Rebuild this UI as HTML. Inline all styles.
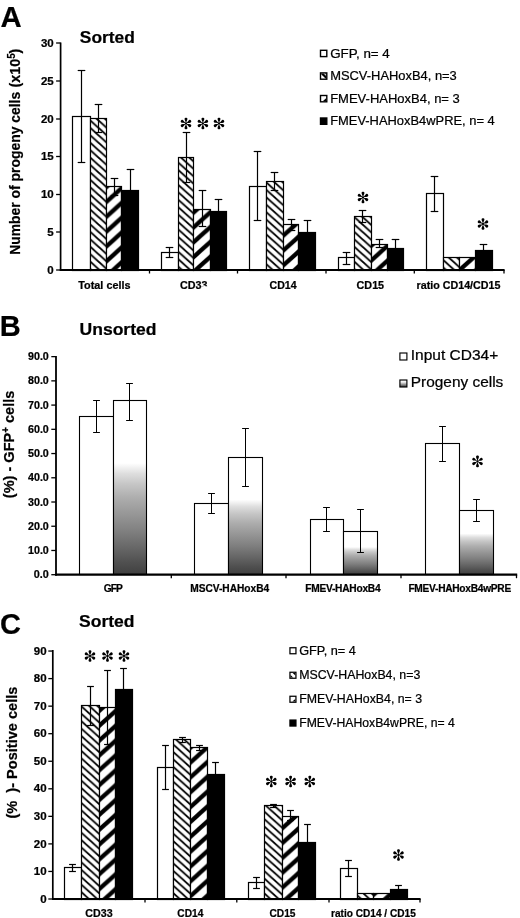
<!DOCTYPE html>
<html><head><meta charset="utf-8"><title>Figure</title><style>html,body{margin:0;padding:0;background:#fff}svg{display:block;will-change:transform}text{font-family:'Liberation Sans', sans-serif;fill:#000;stroke:#000;stroke-width:0.22px;stroke-linejoin:round}</style></head><body>
<svg width="520" height="918" viewBox="0 0 520 918">
<rect width="520" height="918" fill="#fff"/>
<defs><linearGradient id="grad" x1="0" y1="0" x2="0" y2="1"><stop offset="0" stop-color="#fff"/><stop offset="0.36" stop-color="#fff"/><stop offset="0.42" stop-color="#dedede"/><stop offset="0.48" stop-color="#c6c6c6"/><stop offset="0.56" stop-color="#adadad"/><stop offset="0.66" stop-color="#959595"/><stop offset="0.75" stop-color="#808080"/><stop offset="0.85" stop-color="#666"/><stop offset="0.93" stop-color="#505050"/><stop offset="1" stop-color="#404040"/></linearGradient><linearGradient id="grad2" x1="0" y1="0" x2="0" y2="1"><stop offset="0" stop-color="#fff"/><stop offset="0.3" stop-color="#eee"/><stop offset="1" stop-color="#333"/></linearGradient></defs>
<defs><pattern id="thinA" patternUnits="userSpaceOnUse" width="8.25" height="7.43" patternTransform="translate(0,2.0)"><rect width="8.25" height="7.43" fill="#fff"/><polygon points="0,-8.68 8.25,-1.25 8.25,1.25 0,-6.18" fill="#000"/><polygon points="0,-1.25 8.25,6.18 8.25,8.68 0,1.25" fill="#000"/><polygon points="0,6.18 8.25,13.61 8.25,16.11 0,8.68" fill="#000"/></pattern><pattern id="thickA" patternUnits="userSpaceOnUse" width="16.5" height="14.85" patternTransform="translate(0,0.6)"><rect width="16.5" height="14.85" fill="#fff"/><polygon points="0,-2.85 16.5,-17.70 16.5,-12.00 0,2.85" fill="#000"/><polygon points="0,12.00 16.5,-2.85 16.5,2.85 0,17.70" fill="#000"/><polygon points="0,26.85 16.5,12.00 16.5,17.70 0,32.55" fill="#000"/></pattern></defs>
<defs><pattern id="thinC" patternUnits="userSpaceOnUse" width="8.25" height="7.43" patternTransform="translate(0,1.5)"><rect width="8.25" height="7.43" fill="#fff"/><polygon points="0,-8.68 8.25,-1.25 8.25,1.25 0,-6.18" fill="#000"/><polygon points="0,-1.25 8.25,6.18 8.25,8.68 0,1.25" fill="#000"/><polygon points="0,6.18 8.25,13.61 8.25,16.11 0,8.68" fill="#000"/></pattern><pattern id="thickC" patternUnits="userSpaceOnUse" width="16.5" height="14.85" patternTransform="translate(0,-1.7)"><rect width="16.5" height="14.85" fill="#fff"/><polygon points="0,-2.85 16.5,-17.70 16.5,-12.00 0,2.85" fill="#000"/><polygon points="0,12.00 16.5,-2.85 16.5,2.85 0,17.70" fill="#000"/><polygon points="0,26.85 16.5,12.00 16.5,17.70 0,32.55" fill="#000"/></pattern></defs>
<text x="0.6" y="26.9" font-size="29.3" font-weight="bold" >A</text>
<text x="79.8" y="42.8" font-size="16.5" font-weight="bold" textLength="55" lengthAdjust="spacingAndGlyphs" >Sorted</text>
<text transform="translate(19.8,254.8) rotate(-90)" font-size="14.6" font-weight="bold" textLength="163" lengthAdjust="spacingAndGlyphs">Number of progeny cells</text>
<text transform="translate(19.8,87.4) rotate(-90)" font-size="14.6" font-weight="bold" textLength="38.8" lengthAdjust="spacingAndGlyphs">(x10<tspan font-size="10" dy="-5">5</tspan><tspan dy="5">)</tspan></text>
<line x1="56.1" y1="43" x2="60.6" y2="43" stroke="#000" stroke-width="1.3"/>
<text x="53.7" y="46.6" font-size="10.2" font-weight="bold" text-anchor="end" textLength="12.8" lengthAdjust="spacingAndGlyphs" >30</text>
<line x1="56.1" y1="81" x2="60.6" y2="81" stroke="#000" stroke-width="1.3"/>
<text x="53.7" y="84.6" font-size="10.2" font-weight="bold" text-anchor="end" textLength="12.8" lengthAdjust="spacingAndGlyphs" >25</text>
<line x1="56.1" y1="119" x2="60.6" y2="119" stroke="#000" stroke-width="1.3"/>
<text x="53.7" y="122.6" font-size="10.2" font-weight="bold" text-anchor="end" textLength="12.8" lengthAdjust="spacingAndGlyphs" >20</text>
<line x1="56.1" y1="156.5" x2="60.6" y2="156.5" stroke="#000" stroke-width="1.3"/>
<text x="53.7" y="160.1" font-size="10.2" font-weight="bold" text-anchor="end" textLength="12.8" lengthAdjust="spacingAndGlyphs" >15</text>
<line x1="56.1" y1="194.5" x2="60.6" y2="194.5" stroke="#000" stroke-width="1.3"/>
<text x="53.7" y="198.1" font-size="10.2" font-weight="bold" text-anchor="end" textLength="12.8" lengthAdjust="spacingAndGlyphs" >10</text>
<line x1="56.1" y1="232" x2="60.6" y2="232" stroke="#000" stroke-width="1.3"/>
<text x="53.7" y="235.6" font-size="10.2" font-weight="bold" text-anchor="end" textLength="6.4" lengthAdjust="spacingAndGlyphs" >5</text>
<line x1="56.1" y1="270" x2="60.6" y2="270" stroke="#000" stroke-width="1.3"/>
<text x="53.7" y="273.6" font-size="10.2" font-weight="bold" text-anchor="end" textLength="6.4" lengthAdjust="spacingAndGlyphs" >0</text>
<rect x="72.50" y="116.50" width="18.00" height="154.00" fill="#fff" stroke="#000" stroke-width="1.2"/>
<rect x="90.50" y="118.50" width="16.00" height="152.00" fill="url(#thinA)" stroke="#000" stroke-width="1.2"/>
<rect x="106.50" y="186.50" width="15.00" height="84.00" fill="url(#thickA)" stroke="#000" stroke-width="1.2"/>
<rect x="121.50" y="190.50" width="17.00" height="80.00" fill="#000" stroke="#000" stroke-width="1.2"/>
<line x1="81.5" y1="70.5" x2="81.5" y2="162.5" stroke="#000" stroke-width="1.2"/>
<line x1="77.7" y1="70.5" x2="85.3" y2="70.5" stroke="#000" stroke-width="1.2"/>
<line x1="77.7" y1="162.5" x2="85.3" y2="162.5" stroke="#000" stroke-width="1.2"/>
<line x1="98.5" y1="104.5" x2="98.5" y2="132.5" stroke="#000" stroke-width="1.2"/>
<line x1="94.7" y1="104.5" x2="102.3" y2="104.5" stroke="#000" stroke-width="1.2"/>
<line x1="94.7" y1="132.5" x2="102.3" y2="132.5" stroke="#000" stroke-width="1.2"/>
<line x1="114.5" y1="178.5" x2="114.5" y2="195.5" stroke="#000" stroke-width="1.2"/>
<line x1="110.7" y1="178.5" x2="118.3" y2="178.5" stroke="#000" stroke-width="1.2"/>
<line x1="110.7" y1="195.5" x2="118.3" y2="195.5" stroke="#000" stroke-width="1.2"/>
<line x1="130.5" y1="169.5" x2="130.5" y2="190.6" stroke="#000" stroke-width="1.2"/>
<line x1="126.7" y1="169.5" x2="134.3" y2="169.5" stroke="#000" stroke-width="1.2"/>
<rect x="161.50" y="252.50" width="17.00" height="18.00" fill="#fff" stroke="#000" stroke-width="1.2"/>
<rect x="178.50" y="157.50" width="15.00" height="113.00" fill="url(#thinA)" stroke="#000" stroke-width="1.2"/>
<rect x="193.50" y="209.50" width="17.00" height="61.00" fill="url(#thickA)" stroke="#000" stroke-width="1.2"/>
<rect x="210.50" y="211.50" width="16.00" height="59.00" fill="#000" stroke="#000" stroke-width="1.2"/>
<line x1="169.5" y1="247.5" x2="169.5" y2="257.5" stroke="#000" stroke-width="1.2"/>
<line x1="165.7" y1="247.5" x2="173.3" y2="247.5" stroke="#000" stroke-width="1.2"/>
<line x1="165.7" y1="257.5" x2="173.3" y2="257.5" stroke="#000" stroke-width="1.2"/>
<line x1="186.5" y1="132.5" x2="186.5" y2="182.5" stroke="#000" stroke-width="1.2"/>
<line x1="182.7" y1="132.5" x2="190.3" y2="132.5" stroke="#000" stroke-width="1.2"/>
<line x1="182.7" y1="182.5" x2="190.3" y2="182.5" stroke="#000" stroke-width="1.2"/>
<line x1="202.5" y1="190.5" x2="202.5" y2="226.5" stroke="#000" stroke-width="1.2"/>
<line x1="198.7" y1="190.5" x2="206.3" y2="190.5" stroke="#000" stroke-width="1.2"/>
<line x1="198.7" y1="226.5" x2="206.3" y2="226.5" stroke="#000" stroke-width="1.2"/>
<line x1="218.5" y1="199.5" x2="218.5" y2="211" stroke="#000" stroke-width="1.2"/>
<line x1="214.7" y1="199.5" x2="222.3" y2="199.5" stroke="#000" stroke-width="1.2"/>
<rect x="249.50" y="186.50" width="17.00" height="84.00" fill="#fff" stroke="#000" stroke-width="1.2"/>
<rect x="266.50" y="181.50" width="17.00" height="89.00" fill="url(#thinA)" stroke="#000" stroke-width="1.2"/>
<rect x="283.50" y="224.50" width="15.00" height="46.00" fill="url(#thickA)" stroke="#000" stroke-width="1.2"/>
<rect x="298.50" y="232.50" width="17.00" height="38.00" fill="#000" stroke="#000" stroke-width="1.2"/>
<line x1="257.5" y1="151.5" x2="257.5" y2="220.5" stroke="#000" stroke-width="1.2"/>
<line x1="253.7" y1="151.5" x2="261.3" y2="151.5" stroke="#000" stroke-width="1.2"/>
<line x1="253.7" y1="220.5" x2="261.3" y2="220.5" stroke="#000" stroke-width="1.2"/>
<line x1="274.5" y1="172.5" x2="274.5" y2="190.5" stroke="#000" stroke-width="1.2"/>
<line x1="270.7" y1="172.5" x2="278.3" y2="172.5" stroke="#000" stroke-width="1.2"/>
<line x1="270.7" y1="190.5" x2="278.3" y2="190.5" stroke="#000" stroke-width="1.2"/>
<line x1="291.5" y1="219.5" x2="291.5" y2="230.5" stroke="#000" stroke-width="1.2"/>
<line x1="287.7" y1="219.5" x2="295.3" y2="219.5" stroke="#000" stroke-width="1.2"/>
<line x1="287.7" y1="230.5" x2="295.3" y2="230.5" stroke="#000" stroke-width="1.2"/>
<line x1="307.5" y1="220.5" x2="307.5" y2="232.5" stroke="#000" stroke-width="1.2"/>
<line x1="303.7" y1="220.5" x2="311.3" y2="220.5" stroke="#000" stroke-width="1.2"/>
<rect x="338.50" y="257.50" width="16.00" height="13.00" fill="#fff" stroke="#000" stroke-width="1.2"/>
<rect x="354.50" y="216.50" width="17.00" height="54.00" fill="url(#thinA)" stroke="#000" stroke-width="1.2"/>
<rect x="371.50" y="244.50" width="16.00" height="26.00" fill="url(#thickA)" stroke="#000" stroke-width="1.2"/>
<rect x="387.50" y="248.50" width="16.00" height="22.00" fill="#000" stroke="#000" stroke-width="1.2"/>
<line x1="346.5" y1="252.5" x2="346.5" y2="264.5" stroke="#000" stroke-width="1.2"/>
<line x1="342.7" y1="252.5" x2="350.3" y2="252.5" stroke="#000" stroke-width="1.2"/>
<line x1="342.7" y1="264.5" x2="350.3" y2="264.5" stroke="#000" stroke-width="1.2"/>
<line x1="362.5" y1="210.5" x2="362.5" y2="222.5" stroke="#000" stroke-width="1.2"/>
<line x1="358.7" y1="210.5" x2="366.3" y2="210.5" stroke="#000" stroke-width="1.2"/>
<line x1="358.7" y1="222.5" x2="366.3" y2="222.5" stroke="#000" stroke-width="1.2"/>
<line x1="379.5" y1="239.5" x2="379.5" y2="247.5" stroke="#000" stroke-width="1.2"/>
<line x1="375.7" y1="239.5" x2="383.3" y2="239.5" stroke="#000" stroke-width="1.2"/>
<line x1="375.7" y1="247.5" x2="383.3" y2="247.5" stroke="#000" stroke-width="1.2"/>
<line x1="395.5" y1="239.5" x2="395.5" y2="248" stroke="#000" stroke-width="1.2"/>
<line x1="391.7" y1="239.5" x2="399.3" y2="239.5" stroke="#000" stroke-width="1.2"/>
<rect x="426.50" y="193.50" width="17.00" height="77.00" fill="#fff" stroke="#000" stroke-width="1.2"/>
<rect x="443.50" y="257.50" width="16.00" height="13.00" fill="url(#thinA)" stroke="#000" stroke-width="1.2"/>
<rect x="459.50" y="257.50" width="16.00" height="13.00" fill="url(#thickA)" stroke="#000" stroke-width="1.2"/>
<rect x="475.50" y="250.50" width="17.00" height="20.00" fill="#000" stroke="#000" stroke-width="1.2"/>
<line x1="434.5" y1="176.5" x2="434.5" y2="211.5" stroke="#000" stroke-width="1.2"/>
<line x1="430.7" y1="176.5" x2="438.3" y2="176.5" stroke="#000" stroke-width="1.2"/>
<line x1="430.7" y1="211.5" x2="438.3" y2="211.5" stroke="#000" stroke-width="1.2"/>
<line x1="483.5" y1="244.5" x2="483.5" y2="250.5" stroke="#000" stroke-width="1.2"/>
<line x1="479.7" y1="244.5" x2="487.3" y2="244.5" stroke="#000" stroke-width="1.2"/>
<line x1="60.6" y1="42.5" x2="60.6" y2="271.0" stroke="#000" stroke-width="1.7"/>
<line x1="59.800000000000004" y1="270.0" x2="504.6" y2="270.0" stroke="#000" stroke-width="2.1"/>
<line x1="149.5" y1="270.0" x2="149.5" y2="273.5" stroke="#000" stroke-width="1.3"/>
<line x1="237.5" y1="270.0" x2="237.5" y2="273.5" stroke="#000" stroke-width="1.3"/>
<line x1="326" y1="270.0" x2="326" y2="273.5" stroke="#000" stroke-width="1.3"/>
<line x1="414.3" y1="270.0" x2="414.3" y2="273.5" stroke="#000" stroke-width="1.3"/>
<line x1="504" y1="270.0" x2="504" y2="273.5" stroke="#000" stroke-width="1.3"/>
<text x="78.3" y="289" font-size="10.3" font-weight="bold" textLength="52.2" lengthAdjust="spacingAndGlyphs" >Total cells</text>
<clipPath id="cd33clip"><rect x="170" y="275" width="31.7" height="20"/><rect x="201.5" y="275" width="12" height="11.2"/></clipPath>
<text x="180" y="289" font-size="10.3" font-weight="bold" textLength="27.5" lengthAdjust="spacingAndGlyphs" clip-path="url(#cd33clip)">CD33</text>
<text x="269.6" y="289" font-size="10.3" font-weight="bold" textLength="27" lengthAdjust="spacingAndGlyphs" >CD14</text>
<text x="356.6" y="289" font-size="10.3" font-weight="bold" textLength="27.5" lengthAdjust="spacingAndGlyphs" >CD15</text>
<text x="416.6" y="289" font-size="10.3" font-weight="bold" textLength="83.8" lengthAdjust="spacingAndGlyphs" >ratio CD14/CD15</text>
<circle cx="186" cy="123.5" r="1.15" fill="#000"/>
<path transform="translate(186,123.5) scale(1.0,1.0) rotate(0)" d="M0,-0.5 C-0.6,-2 -1.6,-4.0 -1.4,-5.0 C-1.2,-6.1 1.2,-6.1 1.4,-5.0 C1.6,-4.0 0.6,-2 0,-0.5 Z" fill="#000"/>
<path transform="translate(186,123.5) scale(1.0,1.0) rotate(60)" d="M0,-0.5 C-0.6,-2 -1.6,-4.0 -1.4,-5.0 C-1.2,-6.1 1.2,-6.1 1.4,-5.0 C1.6,-4.0 0.6,-2 0,-0.5 Z" fill="#000"/>
<path transform="translate(186,123.5) scale(1.0,1.0) rotate(120)" d="M0,-0.5 C-0.6,-2 -1.6,-4.0 -1.4,-5.0 C-1.2,-6.1 1.2,-6.1 1.4,-5.0 C1.6,-4.0 0.6,-2 0,-0.5 Z" fill="#000"/>
<path transform="translate(186,123.5) scale(1.0,1.0) rotate(180)" d="M0,-0.5 C-0.6,-2 -1.6,-4.0 -1.4,-5.0 C-1.2,-6.1 1.2,-6.1 1.4,-5.0 C1.6,-4.0 0.6,-2 0,-0.5 Z" fill="#000"/>
<path transform="translate(186,123.5) scale(1.0,1.0) rotate(240)" d="M0,-0.5 C-0.6,-2 -1.6,-4.0 -1.4,-5.0 C-1.2,-6.1 1.2,-6.1 1.4,-5.0 C1.6,-4.0 0.6,-2 0,-0.5 Z" fill="#000"/>
<path transform="translate(186,123.5) scale(1.0,1.0) rotate(300)" d="M0,-0.5 C-0.6,-2 -1.6,-4.0 -1.4,-5.0 C-1.2,-6.1 1.2,-6.1 1.4,-5.0 C1.6,-4.0 0.6,-2 0,-0.5 Z" fill="#000"/>
<circle cx="202.9" cy="123.5" r="1.15" fill="#000"/>
<path transform="translate(202.9,123.5) scale(1.0,1.0) rotate(0)" d="M0,-0.5 C-0.6,-2 -1.6,-4.0 -1.4,-5.0 C-1.2,-6.1 1.2,-6.1 1.4,-5.0 C1.6,-4.0 0.6,-2 0,-0.5 Z" fill="#000"/>
<path transform="translate(202.9,123.5) scale(1.0,1.0) rotate(60)" d="M0,-0.5 C-0.6,-2 -1.6,-4.0 -1.4,-5.0 C-1.2,-6.1 1.2,-6.1 1.4,-5.0 C1.6,-4.0 0.6,-2 0,-0.5 Z" fill="#000"/>
<path transform="translate(202.9,123.5) scale(1.0,1.0) rotate(120)" d="M0,-0.5 C-0.6,-2 -1.6,-4.0 -1.4,-5.0 C-1.2,-6.1 1.2,-6.1 1.4,-5.0 C1.6,-4.0 0.6,-2 0,-0.5 Z" fill="#000"/>
<path transform="translate(202.9,123.5) scale(1.0,1.0) rotate(180)" d="M0,-0.5 C-0.6,-2 -1.6,-4.0 -1.4,-5.0 C-1.2,-6.1 1.2,-6.1 1.4,-5.0 C1.6,-4.0 0.6,-2 0,-0.5 Z" fill="#000"/>
<path transform="translate(202.9,123.5) scale(1.0,1.0) rotate(240)" d="M0,-0.5 C-0.6,-2 -1.6,-4.0 -1.4,-5.0 C-1.2,-6.1 1.2,-6.1 1.4,-5.0 C1.6,-4.0 0.6,-2 0,-0.5 Z" fill="#000"/>
<path transform="translate(202.9,123.5) scale(1.0,1.0) rotate(300)" d="M0,-0.5 C-0.6,-2 -1.6,-4.0 -1.4,-5.0 C-1.2,-6.1 1.2,-6.1 1.4,-5.0 C1.6,-4.0 0.6,-2 0,-0.5 Z" fill="#000"/>
<circle cx="219" cy="123.5" r="1.15" fill="#000"/>
<path transform="translate(219,123.5) scale(1.0,1.0) rotate(0)" d="M0,-0.5 C-0.6,-2 -1.6,-4.0 -1.4,-5.0 C-1.2,-6.1 1.2,-6.1 1.4,-5.0 C1.6,-4.0 0.6,-2 0,-0.5 Z" fill="#000"/>
<path transform="translate(219,123.5) scale(1.0,1.0) rotate(60)" d="M0,-0.5 C-0.6,-2 -1.6,-4.0 -1.4,-5.0 C-1.2,-6.1 1.2,-6.1 1.4,-5.0 C1.6,-4.0 0.6,-2 0,-0.5 Z" fill="#000"/>
<path transform="translate(219,123.5) scale(1.0,1.0) rotate(120)" d="M0,-0.5 C-0.6,-2 -1.6,-4.0 -1.4,-5.0 C-1.2,-6.1 1.2,-6.1 1.4,-5.0 C1.6,-4.0 0.6,-2 0,-0.5 Z" fill="#000"/>
<path transform="translate(219,123.5) scale(1.0,1.0) rotate(180)" d="M0,-0.5 C-0.6,-2 -1.6,-4.0 -1.4,-5.0 C-1.2,-6.1 1.2,-6.1 1.4,-5.0 C1.6,-4.0 0.6,-2 0,-0.5 Z" fill="#000"/>
<path transform="translate(219,123.5) scale(1.0,1.0) rotate(240)" d="M0,-0.5 C-0.6,-2 -1.6,-4.0 -1.4,-5.0 C-1.2,-6.1 1.2,-6.1 1.4,-5.0 C1.6,-4.0 0.6,-2 0,-0.5 Z" fill="#000"/>
<path transform="translate(219,123.5) scale(1.0,1.0) rotate(300)" d="M0,-0.5 C-0.6,-2 -1.6,-4.0 -1.4,-5.0 C-1.2,-6.1 1.2,-6.1 1.4,-5.0 C1.6,-4.0 0.6,-2 0,-0.5 Z" fill="#000"/>
<circle cx="363" cy="197.5" r="1.15" fill="#000"/>
<path transform="translate(363,197.5) scale(1.0,1.0) rotate(0)" d="M0,-0.5 C-0.6,-2 -1.6,-4.0 -1.4,-5.0 C-1.2,-6.1 1.2,-6.1 1.4,-5.0 C1.6,-4.0 0.6,-2 0,-0.5 Z" fill="#000"/>
<path transform="translate(363,197.5) scale(1.0,1.0) rotate(60)" d="M0,-0.5 C-0.6,-2 -1.6,-4.0 -1.4,-5.0 C-1.2,-6.1 1.2,-6.1 1.4,-5.0 C1.6,-4.0 0.6,-2 0,-0.5 Z" fill="#000"/>
<path transform="translate(363,197.5) scale(1.0,1.0) rotate(120)" d="M0,-0.5 C-0.6,-2 -1.6,-4.0 -1.4,-5.0 C-1.2,-6.1 1.2,-6.1 1.4,-5.0 C1.6,-4.0 0.6,-2 0,-0.5 Z" fill="#000"/>
<path transform="translate(363,197.5) scale(1.0,1.0) rotate(180)" d="M0,-0.5 C-0.6,-2 -1.6,-4.0 -1.4,-5.0 C-1.2,-6.1 1.2,-6.1 1.4,-5.0 C1.6,-4.0 0.6,-2 0,-0.5 Z" fill="#000"/>
<path transform="translate(363,197.5) scale(1.0,1.0) rotate(240)" d="M0,-0.5 C-0.6,-2 -1.6,-4.0 -1.4,-5.0 C-1.2,-6.1 1.2,-6.1 1.4,-5.0 C1.6,-4.0 0.6,-2 0,-0.5 Z" fill="#000"/>
<path transform="translate(363,197.5) scale(1.0,1.0) rotate(300)" d="M0,-0.5 C-0.6,-2 -1.6,-4.0 -1.4,-5.0 C-1.2,-6.1 1.2,-6.1 1.4,-5.0 C1.6,-4.0 0.6,-2 0,-0.5 Z" fill="#000"/>
<circle cx="483" cy="224" r="1.15" fill="#000"/>
<path transform="translate(483,224) scale(1.0,1.0) rotate(0)" d="M0,-0.5 C-0.6,-2 -1.6,-4.0 -1.4,-5.0 C-1.2,-6.1 1.2,-6.1 1.4,-5.0 C1.6,-4.0 0.6,-2 0,-0.5 Z" fill="#000"/>
<path transform="translate(483,224) scale(1.0,1.0) rotate(60)" d="M0,-0.5 C-0.6,-2 -1.6,-4.0 -1.4,-5.0 C-1.2,-6.1 1.2,-6.1 1.4,-5.0 C1.6,-4.0 0.6,-2 0,-0.5 Z" fill="#000"/>
<path transform="translate(483,224) scale(1.0,1.0) rotate(120)" d="M0,-0.5 C-0.6,-2 -1.6,-4.0 -1.4,-5.0 C-1.2,-6.1 1.2,-6.1 1.4,-5.0 C1.6,-4.0 0.6,-2 0,-0.5 Z" fill="#000"/>
<path transform="translate(483,224) scale(1.0,1.0) rotate(180)" d="M0,-0.5 C-0.6,-2 -1.6,-4.0 -1.4,-5.0 C-1.2,-6.1 1.2,-6.1 1.4,-5.0 C1.6,-4.0 0.6,-2 0,-0.5 Z" fill="#000"/>
<path transform="translate(483,224) scale(1.0,1.0) rotate(240)" d="M0,-0.5 C-0.6,-2 -1.6,-4.0 -1.4,-5.0 C-1.2,-6.1 1.2,-6.1 1.4,-5.0 C1.6,-4.0 0.6,-2 0,-0.5 Z" fill="#000"/>
<path transform="translate(483,224) scale(1.0,1.0) rotate(300)" d="M0,-0.5 C-0.6,-2 -1.6,-4.0 -1.4,-5.0 C-1.2,-6.1 1.2,-6.1 1.4,-5.0 C1.6,-4.0 0.6,-2 0,-0.5 Z" fill="#000"/>
<rect x="320.50" y="50.30" width="6.30" height="6.30" fill="#fff" stroke="#000" stroke-width="1.4"/>
<text x="330.2" y="57.5" font-size="12.4" textLength="59.6" lengthAdjust="spacingAndGlyphs" >GFP, n= 4</text>
<rect x="320.50" y="72.90" width="6.30" height="6.30" fill="#fff" stroke="#000" stroke-width="1.4"/>
<polygon points="321.20,73.60 323.60,73.60 326.10,76.10 326.10,78.50 325.50,78.50 321.20,74.20" fill="#000"/>
<polygon points="324.90,73.60 326.10,73.60 326.10,74.80" fill="#000"/>
<text x="330.2" y="80.1" font-size="12.4" textLength="126.6" lengthAdjust="spacingAndGlyphs" >MSCV-HAHoxB4, n=3</text>
<rect x="320.50" y="95.50" width="6.30" height="6.30" fill="#fff" stroke="#000" stroke-width="1.4"/>
<polygon points="326.10,98.33 326.10,101.10 323.02,101.10" fill="#000"/>
<text x="330.2" y="102.7" font-size="12.4" textLength="129.6" lengthAdjust="spacingAndGlyphs" >FMEV-HAHoxB4, n= 3</text>
<rect x="320.50" y="118.00" width="6.30" height="6.30" fill="#000" stroke="#000" stroke-width="1.4"/>
<text x="330.2" y="125.2" font-size="12.4" textLength="164.5" lengthAdjust="spacingAndGlyphs" >FMEV-HAHoxB4wPRE, n= 4</text>
<text x="-0.2" y="335.8" font-size="29" font-weight="bold" >B</text>
<text x="79.5" y="335.0" font-size="16.8" font-weight="bold" textLength="77" lengthAdjust="spacingAndGlyphs" >Unsorted</text>
<text transform="translate(13.6,498.2) rotate(-90)" font-size="14.8" font-weight="bold" textLength="107.6" lengthAdjust="spacingAndGlyphs">(%) - GFP<tspan font-size="10" dy="-5">+</tspan><tspan dy="5"> cells</tspan></text>
<line x1="51.3" y1="574.7" x2="56.0" y2="574.7" stroke="#000" stroke-width="1.3"/>
<text x="48.8" y="578.3000000000001" font-size="10.2" font-weight="bold" text-anchor="end" textLength="15" lengthAdjust="spacingAndGlyphs" >0.0</text>
<line x1="51.3" y1="550.47" x2="56.0" y2="550.47" stroke="#000" stroke-width="1.3"/>
<text x="48.8" y="554.07" font-size="10.2" font-weight="bold" text-anchor="end" textLength="20.8" lengthAdjust="spacingAndGlyphs" >10.0</text>
<line x1="51.3" y1="526.24" x2="56.0" y2="526.24" stroke="#000" stroke-width="1.3"/>
<text x="48.8" y="529.84" font-size="10.2" font-weight="bold" text-anchor="end" textLength="20.8" lengthAdjust="spacingAndGlyphs" >20.0</text>
<line x1="51.3" y1="502.01000000000005" x2="56.0" y2="502.01000000000005" stroke="#000" stroke-width="1.3"/>
<text x="48.8" y="505.61000000000007" font-size="10.2" font-weight="bold" text-anchor="end" textLength="20.8" lengthAdjust="spacingAndGlyphs" >30.0</text>
<line x1="51.3" y1="477.78000000000003" x2="56.0" y2="477.78000000000003" stroke="#000" stroke-width="1.3"/>
<text x="48.8" y="481.38000000000005" font-size="10.2" font-weight="bold" text-anchor="end" textLength="20.8" lengthAdjust="spacingAndGlyphs" >40.0</text>
<line x1="51.3" y1="453.55000000000007" x2="56.0" y2="453.55000000000007" stroke="#000" stroke-width="1.3"/>
<text x="48.8" y="457.1500000000001" font-size="10.2" font-weight="bold" text-anchor="end" textLength="20.8" lengthAdjust="spacingAndGlyphs" >50.0</text>
<line x1="51.3" y1="429.32000000000005" x2="56.0" y2="429.32000000000005" stroke="#000" stroke-width="1.3"/>
<text x="48.8" y="432.9200000000001" font-size="10.2" font-weight="bold" text-anchor="end" textLength="20.8" lengthAdjust="spacingAndGlyphs" >60.0</text>
<line x1="51.3" y1="405.09000000000003" x2="56.0" y2="405.09000000000003" stroke="#000" stroke-width="1.3"/>
<text x="48.8" y="408.69000000000005" font-size="10.2" font-weight="bold" text-anchor="end" textLength="20.8" lengthAdjust="spacingAndGlyphs" >70.0</text>
<line x1="51.3" y1="380.86" x2="56.0" y2="380.86" stroke="#000" stroke-width="1.3"/>
<text x="48.8" y="384.46000000000004" font-size="10.2" font-weight="bold" text-anchor="end" textLength="20.8" lengthAdjust="spacingAndGlyphs" >80.0</text>
<line x1="51.3" y1="356.63000000000005" x2="56.0" y2="356.63000000000005" stroke="#000" stroke-width="1.3"/>
<text x="48.8" y="360.2300000000001" font-size="10.2" font-weight="bold" text-anchor="end" textLength="20.8" lengthAdjust="spacingAndGlyphs" >90.0</text>
<rect x="79.50" y="416.50" width="34.00" height="158.00" fill="#fff" stroke="#000" stroke-width="1.1"/>
<rect x="113.50" y="400.50" width="33.00" height="174.00" fill="url(#grad)" stroke="#000" stroke-width="1.1"/>
<line x1="96.5" y1="400.5" x2="96.5" y2="432.5" stroke="#000" stroke-width="1.05"/>
<line x1="93.1" y1="400.5" x2="99.9" y2="400.5" stroke="#000" stroke-width="1.05"/>
<line x1="93.1" y1="432.5" x2="99.9" y2="432.5" stroke="#000" stroke-width="1.05"/>
<line x1="129.5" y1="383.5" x2="129.5" y2="420.5" stroke="#000" stroke-width="1.05"/>
<line x1="126.1" y1="383.5" x2="132.9" y2="383.5" stroke="#000" stroke-width="1.05"/>
<line x1="126.1" y1="420.5" x2="132.9" y2="420.5" stroke="#000" stroke-width="1.05"/>
<rect x="194.50" y="503.50" width="34.00" height="71.00" fill="#fff" stroke="#000" stroke-width="1.1"/>
<rect x="228.50" y="457.50" width="34.00" height="117.00" fill="url(#grad)" stroke="#000" stroke-width="1.1"/>
<line x1="211.5" y1="493.5" x2="211.5" y2="513.5" stroke="#000" stroke-width="1.05"/>
<line x1="208.1" y1="493.5" x2="214.9" y2="493.5" stroke="#000" stroke-width="1.05"/>
<line x1="208.1" y1="513.5" x2="214.9" y2="513.5" stroke="#000" stroke-width="1.05"/>
<line x1="245.5" y1="428.5" x2="245.5" y2="486.5" stroke="#000" stroke-width="1.05"/>
<line x1="242.1" y1="428.5" x2="248.9" y2="428.5" stroke="#000" stroke-width="1.05"/>
<line x1="242.1" y1="486.5" x2="248.9" y2="486.5" stroke="#000" stroke-width="1.05"/>
<rect x="310.50" y="519.50" width="33.00" height="55.00" fill="#fff" stroke="#000" stroke-width="1.1"/>
<rect x="343.50" y="531.50" width="34.00" height="43.00" fill="url(#grad)" stroke="#000" stroke-width="1.1"/>
<line x1="326.5" y1="507.5" x2="326.5" y2="531.5" stroke="#000" stroke-width="1.05"/>
<line x1="323.1" y1="507.5" x2="329.9" y2="507.5" stroke="#000" stroke-width="1.05"/>
<line x1="323.1" y1="531.5" x2="329.9" y2="531.5" stroke="#000" stroke-width="1.05"/>
<line x1="360.5" y1="509.5" x2="360.5" y2="552.5" stroke="#000" stroke-width="1.05"/>
<line x1="357.1" y1="509.5" x2="363.9" y2="509.5" stroke="#000" stroke-width="1.05"/>
<line x1="357.1" y1="552.5" x2="363.9" y2="552.5" stroke="#000" stroke-width="1.05"/>
<rect x="425.50" y="443.50" width="34.00" height="131.00" fill="#fff" stroke="#000" stroke-width="1.1"/>
<rect x="459.50" y="510.50" width="34.00" height="64.00" fill="url(#grad)" stroke="#000" stroke-width="1.1"/>
<line x1="442.5" y1="426.5" x2="442.5" y2="461.5" stroke="#000" stroke-width="1.05"/>
<line x1="439.1" y1="426.5" x2="445.9" y2="426.5" stroke="#000" stroke-width="1.05"/>
<line x1="439.1" y1="461.5" x2="445.9" y2="461.5" stroke="#000" stroke-width="1.05"/>
<line x1="476.5" y1="499.5" x2="476.5" y2="521.5" stroke="#000" stroke-width="1.05"/>
<line x1="473.1" y1="499.5" x2="479.9" y2="499.5" stroke="#000" stroke-width="1.05"/>
<line x1="473.1" y1="521.5" x2="479.9" y2="521.5" stroke="#000" stroke-width="1.05"/>
<line x1="56.0" y1="356.0" x2="56.0" y2="575.7" stroke="#000" stroke-width="1.8"/>
<line x1="55.2" y1="574.7" x2="517.2" y2="574.7" stroke="#000" stroke-width="2.3"/>
<line x1="171.3" y1="574.7" x2="171.3" y2="578.2" stroke="#000" stroke-width="1.3"/>
<line x1="286" y1="574.7" x2="286" y2="578.2" stroke="#000" stroke-width="1.3"/>
<line x1="401" y1="574.7" x2="401" y2="578.2" stroke="#000" stroke-width="1.3"/>
<line x1="516.5" y1="574.7" x2="516.5" y2="578.2" stroke="#000" stroke-width="1.3"/>
<text x="103.8" y="591.8" font-size="10.2" font-weight="bold" textLength="19" lengthAdjust="spacing" >GFP</text>
<text x="190.2" y="591.8" font-size="10.2" font-weight="bold" textLength="79" lengthAdjust="spacing" >MSCV-HAHoxB4</text>
<text x="305.2" y="591.8" font-size="10.2" font-weight="bold" textLength="75.4" lengthAdjust="spacing" >FMEV-HAHoxB4</text>
<text x="408.4" y="591.8" font-size="10.2" font-weight="bold" textLength="102.8" lengthAdjust="spacing" >FMEV-HAHoxB4wPRE</text>
<circle cx="477.5" cy="461.4" r="1.15" fill="#000"/>
<path transform="translate(477.5,461.4) scale(1.0,1.0) rotate(0)" d="M0,-0.5 C-0.6,-2 -1.6,-4.0 -1.4,-5.0 C-1.2,-6.1 1.2,-6.1 1.4,-5.0 C1.6,-4.0 0.6,-2 0,-0.5 Z" fill="#000"/>
<path transform="translate(477.5,461.4) scale(1.0,1.0) rotate(60)" d="M0,-0.5 C-0.6,-2 -1.6,-4.0 -1.4,-5.0 C-1.2,-6.1 1.2,-6.1 1.4,-5.0 C1.6,-4.0 0.6,-2 0,-0.5 Z" fill="#000"/>
<path transform="translate(477.5,461.4) scale(1.0,1.0) rotate(120)" d="M0,-0.5 C-0.6,-2 -1.6,-4.0 -1.4,-5.0 C-1.2,-6.1 1.2,-6.1 1.4,-5.0 C1.6,-4.0 0.6,-2 0,-0.5 Z" fill="#000"/>
<path transform="translate(477.5,461.4) scale(1.0,1.0) rotate(180)" d="M0,-0.5 C-0.6,-2 -1.6,-4.0 -1.4,-5.0 C-1.2,-6.1 1.2,-6.1 1.4,-5.0 C1.6,-4.0 0.6,-2 0,-0.5 Z" fill="#000"/>
<path transform="translate(477.5,461.4) scale(1.0,1.0) rotate(240)" d="M0,-0.5 C-0.6,-2 -1.6,-4.0 -1.4,-5.0 C-1.2,-6.1 1.2,-6.1 1.4,-5.0 C1.6,-4.0 0.6,-2 0,-0.5 Z" fill="#000"/>
<path transform="translate(477.5,461.4) scale(1.0,1.0) rotate(300)" d="M0,-0.5 C-0.6,-2 -1.6,-4.0 -1.4,-5.0 C-1.2,-6.1 1.2,-6.1 1.4,-5.0 C1.6,-4.0 0.6,-2 0,-0.5 Z" fill="#000"/>
<rect x="399.90" y="353.00" width="7.00" height="7.00" fill="#fff" stroke="#000" stroke-width="1.15"/>
<text x="410.8" y="360.4" font-size="14.2" textLength="87.5" lengthAdjust="spacingAndGlyphs" >Input CD34+</text>
<rect x="399.90" y="380.00" width="7.00" height="7.00" fill="url(#grad2)" stroke="#000" stroke-width="1.15"/>
<text x="410.8" y="387.4" font-size="14.2" textLength="92.5" lengthAdjust="spacingAndGlyphs" >Progeny cells</text>
<text x="0.0" y="633.5" font-size="29" font-weight="bold" >C</text>
<text x="79" y="627.2" font-size="16.5" font-weight="bold" textLength="55.5" lengthAdjust="spacingAndGlyphs" >Sorted</text>
<text transform="translate(17,818.6) rotate(-90)" font-size="14.5" font-weight="bold" textLength="132" lengthAdjust="spacingAndGlyphs">(%&#160;&#160;)- Positive cells</text>
<line x1="48.3" y1="899.0" x2="52.8" y2="899.0" stroke="#000" stroke-width="1.3"/>
<text x="46.6" y="902.6" font-size="10.2" font-weight="bold" text-anchor="end" textLength="6.4" lengthAdjust="spacingAndGlyphs" >0</text>
<line x1="48.3" y1="871.45" x2="52.8" y2="871.45" stroke="#000" stroke-width="1.3"/>
<text x="46.6" y="875.0500000000001" font-size="10.2" font-weight="bold" text-anchor="end" textLength="12.8" lengthAdjust="spacingAndGlyphs" >10</text>
<line x1="48.3" y1="843.9" x2="52.8" y2="843.9" stroke="#000" stroke-width="1.3"/>
<text x="46.6" y="847.5" font-size="10.2" font-weight="bold" text-anchor="end" textLength="12.8" lengthAdjust="spacingAndGlyphs" >20</text>
<line x1="48.3" y1="816.35" x2="52.8" y2="816.35" stroke="#000" stroke-width="1.3"/>
<text x="46.6" y="819.95" font-size="10.2" font-weight="bold" text-anchor="end" textLength="12.8" lengthAdjust="spacingAndGlyphs" >30</text>
<line x1="48.3" y1="788.8" x2="52.8" y2="788.8" stroke="#000" stroke-width="1.3"/>
<text x="46.6" y="792.4" font-size="10.2" font-weight="bold" text-anchor="end" textLength="12.8" lengthAdjust="spacingAndGlyphs" >40</text>
<line x1="48.3" y1="761.25" x2="52.8" y2="761.25" stroke="#000" stroke-width="1.3"/>
<text x="46.6" y="764.85" font-size="10.2" font-weight="bold" text-anchor="end" textLength="12.8" lengthAdjust="spacingAndGlyphs" >50</text>
<line x1="48.3" y1="733.7" x2="52.8" y2="733.7" stroke="#000" stroke-width="1.3"/>
<text x="46.6" y="737.3000000000001" font-size="10.2" font-weight="bold" text-anchor="end" textLength="12.8" lengthAdjust="spacingAndGlyphs" >60</text>
<line x1="48.3" y1="706.15" x2="52.8" y2="706.15" stroke="#000" stroke-width="1.3"/>
<text x="46.6" y="709.75" font-size="10.2" font-weight="bold" text-anchor="end" textLength="12.8" lengthAdjust="spacingAndGlyphs" >70</text>
<line x1="48.3" y1="678.6" x2="52.8" y2="678.6" stroke="#000" stroke-width="1.3"/>
<text x="46.6" y="682.2" font-size="10.2" font-weight="bold" text-anchor="end" textLength="12.8" lengthAdjust="spacingAndGlyphs" >80</text>
<line x1="48.3" y1="651.05" x2="52.8" y2="651.05" stroke="#000" stroke-width="1.3"/>
<text x="46.6" y="654.65" font-size="10.2" font-weight="bold" text-anchor="end" textLength="12.8" lengthAdjust="spacingAndGlyphs" >90</text>
<rect x="64.50" y="867.50" width="17.00" height="32.00" fill="#fff" stroke="#000" stroke-width="1.2"/>
<rect x="81.50" y="705.50" width="18.00" height="194.00" fill="url(#thinC)" stroke="#000" stroke-width="1.2"/>
<rect x="99.50" y="707.50" width="16.00" height="192.00" fill="url(#thickC)" stroke="#000" stroke-width="1.2"/>
<rect x="115.50" y="689.50" width="17.00" height="210.00" fill="#000" stroke="#000" stroke-width="1.2"/>
<line x1="72.5" y1="864.5" x2="72.5" y2="871.5" stroke="#000" stroke-width="1.2"/>
<line x1="69.1" y1="864.5" x2="75.9" y2="864.5" stroke="#000" stroke-width="1.2"/>
<line x1="69.1" y1="871.5" x2="75.9" y2="871.5" stroke="#000" stroke-width="1.2"/>
<line x1="90.5" y1="686.5" x2="90.5" y2="725.5" stroke="#000" stroke-width="1.2"/>
<line x1="87.1" y1="686.5" x2="93.9" y2="686.5" stroke="#000" stroke-width="1.2"/>
<line x1="87.1" y1="725.5" x2="93.9" y2="725.5" stroke="#000" stroke-width="1.2"/>
<line x1="107.5" y1="670.5" x2="107.5" y2="744.5" stroke="#000" stroke-width="1.2"/>
<line x1="104.1" y1="670.5" x2="110.9" y2="670.5" stroke="#000" stroke-width="1.2"/>
<line x1="104.1" y1="744.5" x2="110.9" y2="744.5" stroke="#000" stroke-width="1.2"/>
<line x1="123.5" y1="668.5" x2="123.5" y2="689.2" stroke="#000" stroke-width="1.2"/>
<line x1="120.1" y1="668.5" x2="126.9" y2="668.5" stroke="#000" stroke-width="1.2"/>
<rect x="157.50" y="767.50" width="16.00" height="132.00" fill="#fff" stroke="#000" stroke-width="1.2"/>
<rect x="173.50" y="739.50" width="17.00" height="160.00" fill="url(#thinC)" stroke="#000" stroke-width="1.2"/>
<rect x="190.50" y="747.50" width="17.00" height="152.00" fill="url(#thickC)" stroke="#000" stroke-width="1.2"/>
<rect x="207.50" y="774.50" width="17.00" height="125.00" fill="#000" stroke="#000" stroke-width="1.2"/>
<line x1="165.5" y1="745.5" x2="165.5" y2="789.5" stroke="#000" stroke-width="1.2"/>
<line x1="162.1" y1="745.5" x2="168.9" y2="745.5" stroke="#000" stroke-width="1.2"/>
<line x1="162.1" y1="789.5" x2="168.9" y2="789.5" stroke="#000" stroke-width="1.2"/>
<line x1="182.5" y1="737.5" x2="182.5" y2="742.5" stroke="#000" stroke-width="1.2"/>
<line x1="179.1" y1="737.5" x2="185.9" y2="737.5" stroke="#000" stroke-width="1.2"/>
<line x1="179.1" y1="742.5" x2="185.9" y2="742.5" stroke="#000" stroke-width="1.2"/>
<line x1="199.5" y1="745.5" x2="199.5" y2="750.5" stroke="#000" stroke-width="1.2"/>
<line x1="196.1" y1="745.5" x2="202.9" y2="745.5" stroke="#000" stroke-width="1.2"/>
<line x1="196.1" y1="750.5" x2="202.9" y2="750.5" stroke="#000" stroke-width="1.2"/>
<line x1="215.5" y1="762.5" x2="215.5" y2="774.5" stroke="#000" stroke-width="1.2"/>
<line x1="212.1" y1="762.5" x2="218.9" y2="762.5" stroke="#000" stroke-width="1.2"/>
<rect x="248.50" y="882.50" width="16.00" height="17.00" fill="#fff" stroke="#000" stroke-width="1.2"/>
<rect x="264.50" y="805.50" width="18.00" height="94.00" fill="url(#thinC)" stroke="#000" stroke-width="1.2"/>
<rect x="282.50" y="816.50" width="16.00" height="83.00" fill="url(#thickC)" stroke="#000" stroke-width="1.2"/>
<rect x="298.50" y="842.50" width="17.00" height="57.00" fill="#000" stroke="#000" stroke-width="1.2"/>
<line x1="256.5" y1="877.5" x2="256.5" y2="888.5" stroke="#000" stroke-width="1.2"/>
<line x1="253.1" y1="877.5" x2="259.9" y2="877.5" stroke="#000" stroke-width="1.2"/>
<line x1="253.1" y1="888.5" x2="259.9" y2="888.5" stroke="#000" stroke-width="1.2"/>
<line x1="273.5" y1="804.5" x2="273.5" y2="807.5" stroke="#000" stroke-width="1.2"/>
<line x1="270.1" y1="804.5" x2="276.9" y2="804.5" stroke="#000" stroke-width="1.2"/>
<line x1="270.1" y1="807.5" x2="276.9" y2="807.5" stroke="#000" stroke-width="1.2"/>
<line x1="290.5" y1="810.5" x2="290.5" y2="820.5" stroke="#000" stroke-width="1.2"/>
<line x1="287.1" y1="810.5" x2="293.9" y2="810.5" stroke="#000" stroke-width="1.2"/>
<line x1="287.1" y1="820.5" x2="293.9" y2="820.5" stroke="#000" stroke-width="1.2"/>
<line x1="307.5" y1="824.5" x2="307.5" y2="842" stroke="#000" stroke-width="1.2"/>
<line x1="304.1" y1="824.5" x2="310.9" y2="824.5" stroke="#000" stroke-width="1.2"/>
<rect x="340.50" y="868.50" width="17.00" height="31.00" fill="#fff" stroke="#000" stroke-width="1.2"/>
<rect x="357.50" y="893.50" width="16.00" height="6.00" fill="url(#thinC)" stroke="#000" stroke-width="1.2"/>
<rect x="373.50" y="893.50" width="17.00" height="6.00" fill="url(#thickC)" stroke="#000" stroke-width="1.2"/>
<rect x="390.50" y="889.50" width="17.00" height="10.00" fill="#000" stroke="#000" stroke-width="1.2"/>
<line x1="348.5" y1="860.5" x2="348.5" y2="876.5" stroke="#000" stroke-width="1.2"/>
<line x1="345.1" y1="860.5" x2="351.9" y2="860.5" stroke="#000" stroke-width="1.2"/>
<line x1="345.1" y1="876.5" x2="351.9" y2="876.5" stroke="#000" stroke-width="1.2"/>
<line x1="398.5" y1="885.5" x2="398.5" y2="889.2" stroke="#000" stroke-width="1.2"/>
<line x1="395.1" y1="885.5" x2="401.9" y2="885.5" stroke="#000" stroke-width="1.2"/>
<line x1="52.8" y1="650.0" x2="52.8" y2="900.0" stroke="#000" stroke-width="1.7"/>
<line x1="52.0" y1="899.0" x2="420.6" y2="899.0" stroke="#000" stroke-width="2.1"/>
<line x1="145" y1="899.0" x2="145" y2="902.5" stroke="#000" stroke-width="1.3"/>
<line x1="236.8" y1="899.0" x2="236.8" y2="902.5" stroke="#000" stroke-width="1.3"/>
<line x1="329" y1="899.0" x2="329" y2="902.5" stroke="#000" stroke-width="1.3"/>
<line x1="420" y1="899.0" x2="420" y2="902.5" stroke="#000" stroke-width="1.3"/>
<text x="85.3" y="917" font-size="10.3" font-weight="bold" textLength="27.3" lengthAdjust="spacingAndGlyphs" >CD33</text>
<text x="177.3" y="917" font-size="10.3" font-weight="bold" textLength="26" lengthAdjust="spacingAndGlyphs" >CD14</text>
<text x="269.5" y="917" font-size="10.3" font-weight="bold" textLength="26" lengthAdjust="spacingAndGlyphs" >CD15</text>
<text x="331" y="917" font-size="10.3" font-weight="bold" textLength="84.8" lengthAdjust="spacingAndGlyphs" >ratio CD14 / CD15</text>
<circle cx="90" cy="656" r="1.15" fill="#000"/>
<path transform="translate(90,656) scale(1.0,1.0) rotate(0)" d="M0,-0.5 C-0.6,-2 -1.6,-4.0 -1.4,-5.0 C-1.2,-6.1 1.2,-6.1 1.4,-5.0 C1.6,-4.0 0.6,-2 0,-0.5 Z" fill="#000"/>
<path transform="translate(90,656) scale(1.0,1.0) rotate(60)" d="M0,-0.5 C-0.6,-2 -1.6,-4.0 -1.4,-5.0 C-1.2,-6.1 1.2,-6.1 1.4,-5.0 C1.6,-4.0 0.6,-2 0,-0.5 Z" fill="#000"/>
<path transform="translate(90,656) scale(1.0,1.0) rotate(120)" d="M0,-0.5 C-0.6,-2 -1.6,-4.0 -1.4,-5.0 C-1.2,-6.1 1.2,-6.1 1.4,-5.0 C1.6,-4.0 0.6,-2 0,-0.5 Z" fill="#000"/>
<path transform="translate(90,656) scale(1.0,1.0) rotate(180)" d="M0,-0.5 C-0.6,-2 -1.6,-4.0 -1.4,-5.0 C-1.2,-6.1 1.2,-6.1 1.4,-5.0 C1.6,-4.0 0.6,-2 0,-0.5 Z" fill="#000"/>
<path transform="translate(90,656) scale(1.0,1.0) rotate(240)" d="M0,-0.5 C-0.6,-2 -1.6,-4.0 -1.4,-5.0 C-1.2,-6.1 1.2,-6.1 1.4,-5.0 C1.6,-4.0 0.6,-2 0,-0.5 Z" fill="#000"/>
<path transform="translate(90,656) scale(1.0,1.0) rotate(300)" d="M0,-0.5 C-0.6,-2 -1.6,-4.0 -1.4,-5.0 C-1.2,-6.1 1.2,-6.1 1.4,-5.0 C1.6,-4.0 0.6,-2 0,-0.5 Z" fill="#000"/>
<circle cx="107.5" cy="656" r="1.15" fill="#000"/>
<path transform="translate(107.5,656) scale(1.0,1.0) rotate(0)" d="M0,-0.5 C-0.6,-2 -1.6,-4.0 -1.4,-5.0 C-1.2,-6.1 1.2,-6.1 1.4,-5.0 C1.6,-4.0 0.6,-2 0,-0.5 Z" fill="#000"/>
<path transform="translate(107.5,656) scale(1.0,1.0) rotate(60)" d="M0,-0.5 C-0.6,-2 -1.6,-4.0 -1.4,-5.0 C-1.2,-6.1 1.2,-6.1 1.4,-5.0 C1.6,-4.0 0.6,-2 0,-0.5 Z" fill="#000"/>
<path transform="translate(107.5,656) scale(1.0,1.0) rotate(120)" d="M0,-0.5 C-0.6,-2 -1.6,-4.0 -1.4,-5.0 C-1.2,-6.1 1.2,-6.1 1.4,-5.0 C1.6,-4.0 0.6,-2 0,-0.5 Z" fill="#000"/>
<path transform="translate(107.5,656) scale(1.0,1.0) rotate(180)" d="M0,-0.5 C-0.6,-2 -1.6,-4.0 -1.4,-5.0 C-1.2,-6.1 1.2,-6.1 1.4,-5.0 C1.6,-4.0 0.6,-2 0,-0.5 Z" fill="#000"/>
<path transform="translate(107.5,656) scale(1.0,1.0) rotate(240)" d="M0,-0.5 C-0.6,-2 -1.6,-4.0 -1.4,-5.0 C-1.2,-6.1 1.2,-6.1 1.4,-5.0 C1.6,-4.0 0.6,-2 0,-0.5 Z" fill="#000"/>
<path transform="translate(107.5,656) scale(1.0,1.0) rotate(300)" d="M0,-0.5 C-0.6,-2 -1.6,-4.0 -1.4,-5.0 C-1.2,-6.1 1.2,-6.1 1.4,-5.0 C1.6,-4.0 0.6,-2 0,-0.5 Z" fill="#000"/>
<circle cx="124" cy="656" r="1.15" fill="#000"/>
<path transform="translate(124,656) scale(1.0,1.0) rotate(0)" d="M0,-0.5 C-0.6,-2 -1.6,-4.0 -1.4,-5.0 C-1.2,-6.1 1.2,-6.1 1.4,-5.0 C1.6,-4.0 0.6,-2 0,-0.5 Z" fill="#000"/>
<path transform="translate(124,656) scale(1.0,1.0) rotate(60)" d="M0,-0.5 C-0.6,-2 -1.6,-4.0 -1.4,-5.0 C-1.2,-6.1 1.2,-6.1 1.4,-5.0 C1.6,-4.0 0.6,-2 0,-0.5 Z" fill="#000"/>
<path transform="translate(124,656) scale(1.0,1.0) rotate(120)" d="M0,-0.5 C-0.6,-2 -1.6,-4.0 -1.4,-5.0 C-1.2,-6.1 1.2,-6.1 1.4,-5.0 C1.6,-4.0 0.6,-2 0,-0.5 Z" fill="#000"/>
<path transform="translate(124,656) scale(1.0,1.0) rotate(180)" d="M0,-0.5 C-0.6,-2 -1.6,-4.0 -1.4,-5.0 C-1.2,-6.1 1.2,-6.1 1.4,-5.0 C1.6,-4.0 0.6,-2 0,-0.5 Z" fill="#000"/>
<path transform="translate(124,656) scale(1.0,1.0) rotate(240)" d="M0,-0.5 C-0.6,-2 -1.6,-4.0 -1.4,-5.0 C-1.2,-6.1 1.2,-6.1 1.4,-5.0 C1.6,-4.0 0.6,-2 0,-0.5 Z" fill="#000"/>
<path transform="translate(124,656) scale(1.0,1.0) rotate(300)" d="M0,-0.5 C-0.6,-2 -1.6,-4.0 -1.4,-5.0 C-1.2,-6.1 1.2,-6.1 1.4,-5.0 C1.6,-4.0 0.6,-2 0,-0.5 Z" fill="#000"/>
<circle cx="271.3" cy="781.5" r="1.15" fill="#000"/>
<path transform="translate(271.3,781.5) scale(1.0,1.0) rotate(0)" d="M0,-0.5 C-0.6,-2 -1.6,-4.0 -1.4,-5.0 C-1.2,-6.1 1.2,-6.1 1.4,-5.0 C1.6,-4.0 0.6,-2 0,-0.5 Z" fill="#000"/>
<path transform="translate(271.3,781.5) scale(1.0,1.0) rotate(60)" d="M0,-0.5 C-0.6,-2 -1.6,-4.0 -1.4,-5.0 C-1.2,-6.1 1.2,-6.1 1.4,-5.0 C1.6,-4.0 0.6,-2 0,-0.5 Z" fill="#000"/>
<path transform="translate(271.3,781.5) scale(1.0,1.0) rotate(120)" d="M0,-0.5 C-0.6,-2 -1.6,-4.0 -1.4,-5.0 C-1.2,-6.1 1.2,-6.1 1.4,-5.0 C1.6,-4.0 0.6,-2 0,-0.5 Z" fill="#000"/>
<path transform="translate(271.3,781.5) scale(1.0,1.0) rotate(180)" d="M0,-0.5 C-0.6,-2 -1.6,-4.0 -1.4,-5.0 C-1.2,-6.1 1.2,-6.1 1.4,-5.0 C1.6,-4.0 0.6,-2 0,-0.5 Z" fill="#000"/>
<path transform="translate(271.3,781.5) scale(1.0,1.0) rotate(240)" d="M0,-0.5 C-0.6,-2 -1.6,-4.0 -1.4,-5.0 C-1.2,-6.1 1.2,-6.1 1.4,-5.0 C1.6,-4.0 0.6,-2 0,-0.5 Z" fill="#000"/>
<path transform="translate(271.3,781.5) scale(1.0,1.0) rotate(300)" d="M0,-0.5 C-0.6,-2 -1.6,-4.0 -1.4,-5.0 C-1.2,-6.1 1.2,-6.1 1.4,-5.0 C1.6,-4.0 0.6,-2 0,-0.5 Z" fill="#000"/>
<circle cx="290.6" cy="781.5" r="1.15" fill="#000"/>
<path transform="translate(290.6,781.5) scale(1.0,1.0) rotate(0)" d="M0,-0.5 C-0.6,-2 -1.6,-4.0 -1.4,-5.0 C-1.2,-6.1 1.2,-6.1 1.4,-5.0 C1.6,-4.0 0.6,-2 0,-0.5 Z" fill="#000"/>
<path transform="translate(290.6,781.5) scale(1.0,1.0) rotate(60)" d="M0,-0.5 C-0.6,-2 -1.6,-4.0 -1.4,-5.0 C-1.2,-6.1 1.2,-6.1 1.4,-5.0 C1.6,-4.0 0.6,-2 0,-0.5 Z" fill="#000"/>
<path transform="translate(290.6,781.5) scale(1.0,1.0) rotate(120)" d="M0,-0.5 C-0.6,-2 -1.6,-4.0 -1.4,-5.0 C-1.2,-6.1 1.2,-6.1 1.4,-5.0 C1.6,-4.0 0.6,-2 0,-0.5 Z" fill="#000"/>
<path transform="translate(290.6,781.5) scale(1.0,1.0) rotate(180)" d="M0,-0.5 C-0.6,-2 -1.6,-4.0 -1.4,-5.0 C-1.2,-6.1 1.2,-6.1 1.4,-5.0 C1.6,-4.0 0.6,-2 0,-0.5 Z" fill="#000"/>
<path transform="translate(290.6,781.5) scale(1.0,1.0) rotate(240)" d="M0,-0.5 C-0.6,-2 -1.6,-4.0 -1.4,-5.0 C-1.2,-6.1 1.2,-6.1 1.4,-5.0 C1.6,-4.0 0.6,-2 0,-0.5 Z" fill="#000"/>
<path transform="translate(290.6,781.5) scale(1.0,1.0) rotate(300)" d="M0,-0.5 C-0.6,-2 -1.6,-4.0 -1.4,-5.0 C-1.2,-6.1 1.2,-6.1 1.4,-5.0 C1.6,-4.0 0.6,-2 0,-0.5 Z" fill="#000"/>
<circle cx="309.8" cy="781.5" r="1.15" fill="#000"/>
<path transform="translate(309.8,781.5) scale(1.0,1.0) rotate(0)" d="M0,-0.5 C-0.6,-2 -1.6,-4.0 -1.4,-5.0 C-1.2,-6.1 1.2,-6.1 1.4,-5.0 C1.6,-4.0 0.6,-2 0,-0.5 Z" fill="#000"/>
<path transform="translate(309.8,781.5) scale(1.0,1.0) rotate(60)" d="M0,-0.5 C-0.6,-2 -1.6,-4.0 -1.4,-5.0 C-1.2,-6.1 1.2,-6.1 1.4,-5.0 C1.6,-4.0 0.6,-2 0,-0.5 Z" fill="#000"/>
<path transform="translate(309.8,781.5) scale(1.0,1.0) rotate(120)" d="M0,-0.5 C-0.6,-2 -1.6,-4.0 -1.4,-5.0 C-1.2,-6.1 1.2,-6.1 1.4,-5.0 C1.6,-4.0 0.6,-2 0,-0.5 Z" fill="#000"/>
<path transform="translate(309.8,781.5) scale(1.0,1.0) rotate(180)" d="M0,-0.5 C-0.6,-2 -1.6,-4.0 -1.4,-5.0 C-1.2,-6.1 1.2,-6.1 1.4,-5.0 C1.6,-4.0 0.6,-2 0,-0.5 Z" fill="#000"/>
<path transform="translate(309.8,781.5) scale(1.0,1.0) rotate(240)" d="M0,-0.5 C-0.6,-2 -1.6,-4.0 -1.4,-5.0 C-1.2,-6.1 1.2,-6.1 1.4,-5.0 C1.6,-4.0 0.6,-2 0,-0.5 Z" fill="#000"/>
<path transform="translate(309.8,781.5) scale(1.0,1.0) rotate(300)" d="M0,-0.5 C-0.6,-2 -1.6,-4.0 -1.4,-5.0 C-1.2,-6.1 1.2,-6.1 1.4,-5.0 C1.6,-4.0 0.6,-2 0,-0.5 Z" fill="#000"/>
<circle cx="398.5" cy="855" r="1.15" fill="#000"/>
<path transform="translate(398.5,855) scale(1.0,1.0) rotate(0)" d="M0,-0.5 C-0.6,-2 -1.6,-4.0 -1.4,-5.0 C-1.2,-6.1 1.2,-6.1 1.4,-5.0 C1.6,-4.0 0.6,-2 0,-0.5 Z" fill="#000"/>
<path transform="translate(398.5,855) scale(1.0,1.0) rotate(60)" d="M0,-0.5 C-0.6,-2 -1.6,-4.0 -1.4,-5.0 C-1.2,-6.1 1.2,-6.1 1.4,-5.0 C1.6,-4.0 0.6,-2 0,-0.5 Z" fill="#000"/>
<path transform="translate(398.5,855) scale(1.0,1.0) rotate(120)" d="M0,-0.5 C-0.6,-2 -1.6,-4.0 -1.4,-5.0 C-1.2,-6.1 1.2,-6.1 1.4,-5.0 C1.6,-4.0 0.6,-2 0,-0.5 Z" fill="#000"/>
<path transform="translate(398.5,855) scale(1.0,1.0) rotate(180)" d="M0,-0.5 C-0.6,-2 -1.6,-4.0 -1.4,-5.0 C-1.2,-6.1 1.2,-6.1 1.4,-5.0 C1.6,-4.0 0.6,-2 0,-0.5 Z" fill="#000"/>
<path transform="translate(398.5,855) scale(1.0,1.0) rotate(240)" d="M0,-0.5 C-0.6,-2 -1.6,-4.0 -1.4,-5.0 C-1.2,-6.1 1.2,-6.1 1.4,-5.0 C1.6,-4.0 0.6,-2 0,-0.5 Z" fill="#000"/>
<path transform="translate(398.5,855) scale(1.0,1.0) rotate(300)" d="M0,-0.5 C-0.6,-2 -1.6,-4.0 -1.4,-5.0 C-1.2,-6.1 1.2,-6.1 1.4,-5.0 C1.6,-4.0 0.6,-2 0,-0.5 Z" fill="#000"/>
<rect x="289.95" y="647.75" width="6.00" height="6.00" fill="#fff" stroke="#000" stroke-width="1.25"/>
<text x="299.2" y="654.5" font-size="12.2" textLength="56.7" lengthAdjust="spacingAndGlyphs" >GFP, n= 4</text>
<rect x="289.95" y="672.25" width="6.00" height="6.00" fill="#fff" stroke="#000" stroke-width="1.25"/>
<polygon points="292.71,672.88 295.32,672.88 295.32,675.49" fill="#000"/>
<polygon points="290.57,675.01 293.19,677.62 290.57,677.62" fill="#000"/>
<text x="299.2" y="679" font-size="12.2" textLength="121.1" lengthAdjust="spacingAndGlyphs" >MSCV-HAHoxB4, n=3</text>
<rect x="289.95" y="696.25" width="6.00" height="6.00" fill="#fff" stroke="#000" stroke-width="1.25"/>
<polygon points="295.32,698.95 295.32,701.62 292.35,701.62" fill="#000"/>
<text x="299.2" y="703" font-size="12.2" textLength="122.9" lengthAdjust="spacingAndGlyphs" >FMEV-HAHoxB4, n= 3</text>
<rect x="289.95" y="720.05" width="6.00" height="6.00" fill="#000" stroke="#000" stroke-width="1.25"/>
<text x="299.2" y="726.8" font-size="12.2" textLength="155.7" lengthAdjust="spacingAndGlyphs" >FMEV-HAHoxB4wPRE, n= 4</text>
</svg></body></html>
